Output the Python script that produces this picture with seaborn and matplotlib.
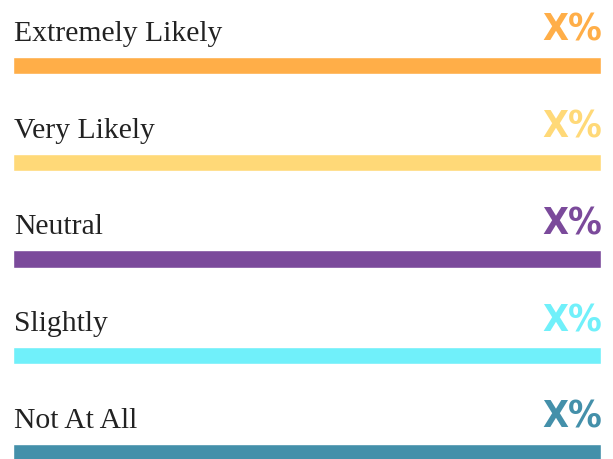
import matplotlib
matplotlib.use("Agg")
import matplotlib.pyplot as plt
import seaborn as sns
import pandas as pd

# categories and values (all bars shown full-length, labels are placeholders)
categories = ["Extremely Likely", "Very Likely", "Neutral", "Slightly", "Not At All"]
values = [100, 100, 100, 100, 100]
value_labels = ["X%", "X%", "X%", "X%", "X%"]
colors = ["#FFAE48", "#FFD978", "#7B4A9B", "#70F0FA", "#4490AA"]

df = pd.DataFrame({"category": categories, "value": values})

sns.set_style("white")
fig = plt.figure(figsize=(6.13, 4.6), dpi=100)
ax = fig.add_axes([13 / 613, 0, 588 / 613, 1])

sns.barplot(data=df, x="value", y="category", hue="category", palette=colors,
            orient="h", width=0.176, legend=False, ax=ax, saturation=1)

ax.set_xlim(0, 100)
ax.set_ylim(4.067, -0.687)
ax.axis("off")

for i, (cat, lab) in enumerate(zip(categories, value_labels)):
    ax.text(0.2, i - 0.265, cat, ha="left", va="baseline", fontsize=21.3,
            family="Liberation Serif", color="#222222", clip_on=False)
    ax.text(100.2, i - 0.265, lab, ha="right", va="baseline", fontsize=27,
            family="DejaVu Sans", fontstretch="condensed", fontweight="bold",
            color=colors[i], clip_on=False)

plt.savefig("out.png", dpi=100)
